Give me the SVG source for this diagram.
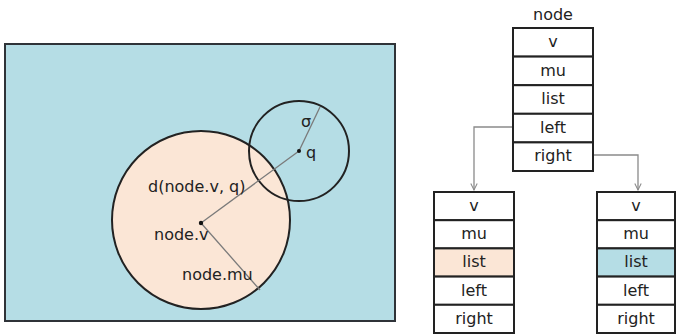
<svg xmlns="http://www.w3.org/2000/svg" width="676" height="334" viewBox="0 0 676 334">
<style>
text{font-family:"DejaVu Sans","Liberation Sans",sans-serif;font-size:16px;fill:#222}
.c{text-anchor:middle}
.cell{fill:#fff;stroke:#222;stroke-width:2}
.conn{fill:none;stroke:#8a8a8a;stroke-width:1.3}
.rad{stroke:#7a7a7a;stroke-width:1.3}
</style>
<defs>
<marker id="arr" viewBox="0 0 10 10" refX="9" refY="5" markerWidth="8" markerHeight="8" orient="auto" markerUnits="userSpaceOnUse">
<path d="M1,1 L9,5 L1,9" fill="none" stroke="#8a8a8a" stroke-width="1.3"/>
</marker>
</defs>
<rect width="676" height="334" fill="#fff"/>
<g id="space">
<rect x="5" y="44" width="390" height="277" fill="#b5dde5" stroke="#2f3338" stroke-width="2"/>
<circle cx="201" cy="220" r="89" fill="#fbe6d6" stroke="#222" stroke-width="2"/>
<circle cx="299" cy="151" r="50" fill="none" stroke="#222" stroke-width="2"/>
<line class="rad" x1="201" y1="223" x2="299" y2="151"/>
<line class="rad" x1="299" y1="151" x2="320" y2="107"/>
<line class="rad" x1="201" y1="223" x2="260" y2="290"/>
<circle cx="201" cy="223" r="2.2" fill="#111"/>
<circle cx="299" cy="151" r="2" fill="#111"/>
<text x="148" y="192">d(node.v, q)</text>
<text x="154" y="240">node.v</text>
<text x="182" y="280">node.mu</text>
<text x="306" y="158">q</text>
<text x="301" y="127">σ</text>
</g>
<g id="node">
<text class="c" x="553" y="20">node</text>
<rect class="cell" x="513" y="28" width="80" height="28.6"/>
<rect class="cell" x="513" y="56.6" width="80" height="28.6"/>
<rect class="cell" x="513" y="85.2" width="80" height="28.6"/>
<rect class="cell" x="513" y="113.8" width="80" height="28.6"/>
<rect class="cell" x="513" y="142.4" width="80" height="28.6"/>
<text class="c" x="553" y="47">v</text>
<text class="c" x="553" y="76">mu</text>
<text class="c" x="553" y="104">list</text>
<text class="c" x="553" y="133">left</text>
<text class="c" x="553" y="161">right</text>
</g>
<g id="left-child">
<rect class="cell" x="434" y="192" width="80" height="28.2"/>
<rect class="cell" x="434" y="220.2" width="80" height="28.2"/>
<rect class="cell" x="434" y="248.4" width="80" height="28.2" style="fill:#fbe6d6"/>
<rect class="cell" x="434" y="276.6" width="80" height="28.2"/>
<rect class="cell" x="434" y="304.8" width="80" height="28.2"/>
<text class="c" x="474" y="211">v</text>
<text class="c" x="474" y="239">mu</text>
<text class="c" x="474" y="267">list</text>
<text class="c" x="474" y="296">left</text>
<text class="c" x="474" y="324">right</text>
</g>
<g id="right-child">
<rect class="cell" x="597" y="192" width="78" height="28.2"/>
<rect class="cell" x="597" y="220.2" width="78" height="28.2"/>
<rect class="cell" x="597" y="248.4" width="78" height="28.2" style="fill:#b5dde5"/>
<rect class="cell" x="597" y="276.6" width="78" height="28.2"/>
<rect class="cell" x="597" y="304.8" width="78" height="28.2"/>
<text class="c" x="636" y="211">v</text>
<text class="c" x="636" y="239">mu</text>
<text class="c" x="636" y="267">list</text>
<text class="c" x="636" y="296">left</text>
<text class="c" x="636" y="324">right</text>
</g>
<g id="connectors">
<path class="conn" d="M512,127 H474 V190" marker-end="url(#arr)"/>
<path class="conn" d="M594,155 H638 V190" marker-end="url(#arr)"/>
</g>
</svg>
